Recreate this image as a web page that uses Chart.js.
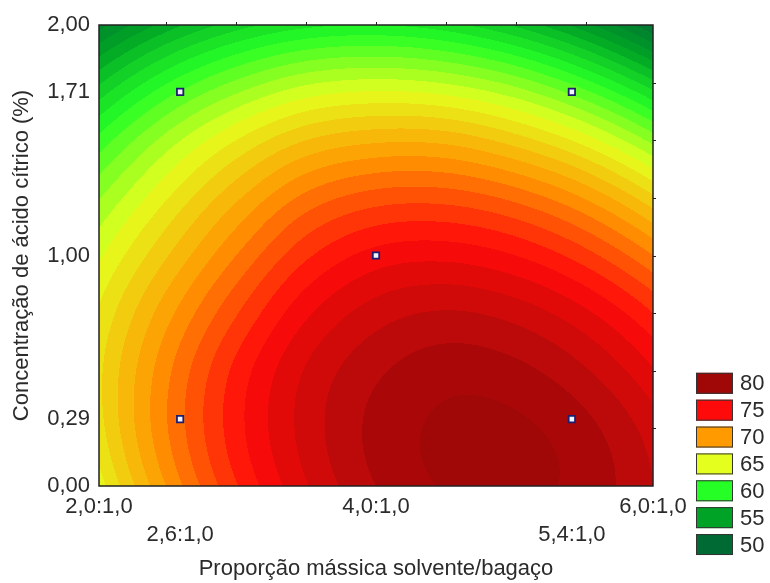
<!DOCTYPE html>
<html>
<head>
<meta charset="utf-8">
<script src="https://cdn.jsdelivr.net/npm/chart.js@4.4.1/dist/chart.umd.min.js"></script>
<style>html,body{margin:0;padding:0;background:#fff}</style>
</head>
<body>
<canvas id="contourChart" width="770" height="583"></canvas>
<script>
const FONT = "'Liberation Sans', Arial, sans-serif";
const TEXT = '#2b2b2b';

// fitted surface on a regular grid
const gridX = [2.0, 2.5, 3.0, 3.5, 4.0, 4.5, 5.0, 5.5, 6.0];
const gridY = [0, 0.25, 0.5, 0.75, 1.0, 1.25, 1.5, 1.75, 2.0];
const surfY000 = [65.3, 70.0, 73.9, 76.9, 79.0, 80.1, 80.3, 79.6, 77.9];
const surfY025 = [66.4, 70.9, 74.6, 77.4, 79.3, 80.2, 80.2, 79.3, 77.4];
const surfY050 = [66.6, 70.7, 74.3, 77.1, 78.8, 79.6, 79.3, 78.1, 76.0];
const surfY075 = [66.0, 69.6, 72.9, 75.8, 77.5, 78.1, 77.6, 76.2, 73.9];
const surfY100 = [64.7, 67.9, 71.0, 73.8, 75.4, 75.7, 75.0, 73.4, 70.9];
const surfY125 = [62.8, 65.9, 68.8, 71.3, 72.5, 72.6, 71.7, 69.9, 67.1];
const surfY150 = [60.2, 63.4, 66.0, 68.0, 68.8, 68.7, 67.5, 65.5, 62.5];
const surfY175 = [56.7, 59.9, 62.2, 63.8, 64.3, 63.9, 62.6, 60.3, 57.1];
const surfY200 = [52.4, 55.4, 57.5, 58.7, 59.0, 58.4, 56.8, 54.3, 50.8];
const surfaceRows = [surfY000, surfY025, surfY050, surfY075, surfY100,
                     surfY125, surfY150, surfY175, surfY200];

// experimental points
const designX = [2.6, 2.6, 4.0, 5.4, 5.4];
const designY = [0.29, 1.71, 1.00, 0.29, 1.71];

// axes (range = axial points, alpha 1.414)
const xMin = 2.02, xMax = 5.98;
const xTickValues = [2.02, 2.6, 4.0, 5.4, 5.98];
const xTickLabels = ['2,0:1,0', '2,6:1,0', '4,0:1,0', '5,4:1,0', '6,0:1,0'];
const xTickRow = [0, 1, 0, 1, 0];
const yTickValues = [0, 0.29, 1.0, 1.71, 2.0];
const yTickLabels = ['0,00', '0,29', '1,00', '1,71', '2,00'];
const topMarks = [2.5, 3.0, 3.5, 4.0, 4.5, 5.0, 5.5];
const rightMarks = [0.25, 0.5, 0.75, 1.0, 1.25, 1.5, 1.75];

const legendLevels = [80, 75, 70, 65, 60, 55, 50];
const legendColors = ['#a00808', '#ff0a0a', '#ff9a00', '#e4ff1e', '#26ff26', '#00a326', '#006a34'];

function hexRgb(h) {
  return [parseInt(h.slice(1, 3), 16), parseInt(h.slice(3, 5), 16), parseInt(h.slice(5, 7), 16)];
}
const stops = legendLevels.map((l, i) => ({ v: l, c: hexRgb(legendColors[i]) })).reverse();

function colorFor(z) {
  if (z <= stops[0].v) return stops[0].c;
  const last = stops[stops.length - 1];
  if (z >= last.v) return last.c;
  for (let i = 0; i < stops.length - 1; i++) {
    const a = stops[i], b = stops[i + 1];
    if (z <= b.v) {
      const t = (z - a.v) / (b.v - a.v);
      return [0, 1, 2].map(k => a.c[k] + (b.c[k] - a.c[k]) * t);
    }
  }
  return last.c;
}

// catmull-rom along one direction, quadratic ends
function interp(pos, vals, v) {
  const n = pos.length;
  let i = Math.floor((v - pos[0]) / (pos[1] - pos[0]));
  i = Math.max(0, Math.min(n - 2, i));
  const t = (v - pos[i]) / (pos[1] - pos[0]);
  const p = k => {
    if (k < 0) return 3 * vals[0] - 3 * vals[1] + vals[2];
    if (k > n - 1) return 3 * vals[n - 1] - 3 * vals[n - 2] + vals[n - 3];
    return vals[k];
  };
  const p0 = p(i - 1), p1 = p(i), p2 = p(i + 1), p3 = p(i + 2);
  return 0.5 * (2 * p1 + (-p0 + p2) * t + (2 * p0 - 5 * p1 + 4 * p2 - p3) * t * t +
    (-p0 + 3 * p1 - 3 * p2 + p3) * t * t * t);
}

const surfacePlugin = {
  id: 'surface',
  beforeDatasetsDraw(chart) {
    const { ctx, chartArea: a, scales: { x, y } } = chart;
    const w = Math.round(a.right - a.left), h = Math.round(a.bottom - a.top);
    const off = document.createElement('canvas');
    off.width = w; off.height = h;
    const octx = off.getContext('2d');
    const img = octx.createImageData(w, h);
    const xs = [];
    for (let i = 0; i < w; i++) xs.push(x.getValueForPixel(a.left + i + 0.5));
    for (let j = 0; j < h; j++) {
      const yv = y.getValueForPixel(a.top + j + 0.5);
      const col = gridX.map((_, k) => interp(gridY, surfaceRows.map(r => r[k]), yv));
      for (let i = 0; i < w; i++) {
        const z = interp(gridX, col, xs[i]);
        const c = colorFor(Math.floor(z) + 0.5);
        const o = (j * w + i) * 4;
        img.data[o] = c[0]; img.data[o + 1] = c[1]; img.data[o + 2] = c[2]; img.data[o + 3] = 255;
      }
    }
    octx.putImageData(img, 0, 0);
    ctx.drawImage(off, a.left, a.top);
  },
  afterDraw(chart) {
    const { ctx, chartArea: a, scales: { x, y } } = chart;
    ctx.save();
    ctx.strokeStyle = '#222';
    ctx.lineWidth = 1.5;
    ctx.strokeRect(a.left, a.top, a.right - a.left, a.bottom - a.top);
    ctx.lineWidth = 1;
    ctx.beginPath();
    topMarks.forEach(v => { const px = Math.round(x.getPixelForValue(v)) + 0.5; ctx.moveTo(px, a.top); ctx.lineTo(px, a.top - 3); });
    rightMarks.forEach(v => { const py = Math.round(y.getPixelForValue(v)) + 0.5; ctx.moveTo(a.right, py); ctx.lineTo(a.right + 3, py); });
    ctx.stroke();

    // colour legend
    ctx.font = '22px ' + FONT;
    ctx.textBaseline = 'middle';
    ctx.textAlign = 'left';
    legendLevels.forEach((lv, i) => {
      const cy = 383.3 + i * 26.87;
      ctx.fillStyle = legendColors[i];
      ctx.fillRect(696, cy - 10.5, 37, 21);
      ctx.strokeStyle = '#333';
      ctx.strokeRect(696.5, cy - 10, 36, 20);
      ctx.fillStyle = TEXT;
      ctx.fillText(String(lv), 740, cy + 1);
    });
    ctx.restore();
  }
};

const ctx = document.getElementById('contourChart').getContext('2d');

const data = {
  datasets: [{
    data: designX.map((v, i) => ({ x: v, y: designY[i] })),
    pointStyle: 'rect',
    pointRadius: 4.5,
    pointBackgroundColor: '#f2f4ff',
    pointBorderColor: '#1e1e70',
    pointBorderWidth: 1.8,
  }]
};

const config = {
  type: 'scatter',
  data: data,
  options: {
    responsive: false,
    animation: false,
    devicePixelRatio: 1,
    layout: { padding: { left: 0, right: 117, top: 25, bottom: 0 } },
    plugins: { legend: { display: false }, tooltip: { enabled: false } },
    scales: {
      x: {
        type: 'linear', min: xMin, max: xMax,
        afterBuildTicks: s => { s.ticks = xTickValues.map(v => ({ value: v })); },
        afterFit: s => { s.height = 97; },
        grid: { display: false, drawTicks: false },
        border: { display: false },
        ticks: {
          autoSkip: false, maxRotation: 0, padding: 7, color: TEXT,
          font: { family: FONT, size: 22, lineHeight: 1.27 },
          callback: (v, i) => xTickRow[i] ? ['', xTickLabels[i]] : xTickLabels[i]
        },
        title: {
          display: true, text: 'Proporção mássica solvente/bagaço', color: TEXT,
          font: { family: FONT, size: 22 }, padding: { top: 0, bottom: 1 }
        }
      },
      y: {
        type: 'linear', min: 0, max: 2,
        afterBuildTicks: s => { s.ticks = yTickValues.map(v => ({ value: v })); },
        afterFit: s => { s.width = 99; },
        grid: { display: false, drawTicks: false },
        border: { display: false },
        ticks: {
          autoSkip: false, padding: 9, color: TEXT,
          font: { family: FONT, size: 22 },
          callback: (v, i) => yTickLabels[i]
        },
        title: {
          display: true, text: 'Concentração de ácido cítrico (%)', color: TEXT,
          font: { family: FONT, size: 22 }, padding: { top: 9, bottom: 0 }
        }
      }
    }
  },
  plugins: [surfacePlugin]
};

const contourChart = new Chart(ctx, config);
</script>
</body>
</html>
